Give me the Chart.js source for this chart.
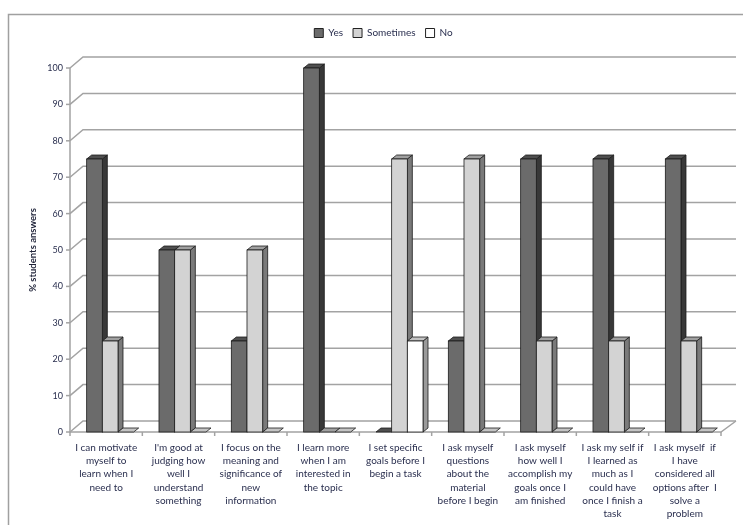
<!DOCTYPE html>
<html lang="en">
<head>
    <meta charset="UTF-8">
    <title>Metacognition survey</title>
    <script src="https://cdn.jsdelivr.net/npm/chart.js"></script>
    <style>
        body { margin: 0; background: #fff; }
    </style>
</head>
<body>
    <canvas id="surveyChart" width="743" height="525"></canvas>

    <script>
        // Statements (one array of lines per category)
        const categories = [
            ['I can motivate', 'myself to', 'learn when I', 'need to'],
            ["I'm good at", 'judging how', 'well I', 'understand', 'something'],
            ['I focus on the', 'meaning and', 'significance of', 'new', 'information'],
            ['I learn more', 'when I am', 'interested in', 'the topic'],
            ['I set specific', 'goals before I', 'begin a task'],
            ['I ask myself', 'questions', 'about the', 'material', 'before I begin'],
            ['I ask myself', 'how well I', 'accomplish my', 'goals once I', 'am finished'],
            ['I ask my self if', 'I learned as', 'much as I', 'could have', 'once I finish a', 'task'],
            ['I ask myself  if', 'I have', 'considered all', 'options after  I', 'solve a', 'problem']
        ];
        const yesValues = [75, 50, 25, 100, 0, 25, 75, 75, 75];
        const sometimesValues = [25, 50, 50, 0, 75, 75, 25, 25, 25];
        const noValues = [0, 0, 0, 0, 25, 0, 0, 0, 0];
        const yTickValues = [0, 10, 20, 30, 40, 50, 60, 70, 80, 90, 100];

        const textColor = '#2a2f4f';
        const gridColor = '#a3a3a3';
        const wallDepth = { x: 13, y: -11 };
        const barDepth = { x: 5, y: -4 };
        const faces = [
            { front: '#6b6b6b', top: '#4f4f4f', side: '#383838' },
            { front: '#d3d3d3', top: '#a0a0a0', side: '#7a7a7a' },
            { front: '#ffffff', top: '#c4c4c4', side: '#9a9a9a' }
        ];
        const font = 'Lato, "Liberation Sans", sans-serif';

        function poly(ctx, pts, fill) {
            ctx.beginPath();
            ctx.moveTo(pts[0][0], pts[0][1]);
            for (let i = 1; i < pts.length; i++) ctx.lineTo(pts[i][0], pts[i][1]);
            ctx.closePath();
            ctx.fillStyle = fill;
            ctx.fill();
            ctx.stroke();
        }

        // draws the frame, back wall, floor and the 3D columns
        const threeD = {
            id: 'threeD',
            afterInit(chart) {
                // leave extra room under the legend for the back wall
                const legend = chart.legend;
                const fit = legend.fit.bind(legend);
                legend.fit = function () { fit(); this.height += 20; };
            },
            afterLayout(chart) {
                // centre the legend over the plot rather than the canvas
                chart.legend.left += 13;
                chart.legend.right += 13;
            },
            beforeDraw(chart) {
                const ctx = chart.ctx;
                ctx.save();
                ctx.strokeStyle = '#a0a0a0';
                ctx.lineWidth = 1.5;
                ctx.strokeRect(8.5, 14.5, 900, 700);
                ctx.restore();
            },
            beforeDatasetsDraw(chart) {
                const { ctx, chartArea: a, scales: { y } } = chart;
                ctx.save();
                ctx.strokeStyle = gridColor;
                ctx.lineWidth = 1.5;

                y.ticks.forEach(t => {
                    const py = y.getPixelForValue(t.value);
                    ctx.beginPath();
                    ctx.moveTo(a.left, py);
                    ctx.lineTo(a.left + wallDepth.x, py + wallDepth.y);
                    ctx.lineTo(a.right + wallDepth.x + 2, py + wallDepth.y);
                    ctx.stroke();
                    ctx.beginPath();
                    ctx.moveTo(a.left - 4, py);
                    ctx.lineTo(a.left, py);
                    ctx.stroke();
                });

                // axis and floor
                ctx.beginPath();
                ctx.moveTo(a.left, y.getPixelForValue(100));
                ctx.lineTo(a.left, a.bottom);
                ctx.lineTo(a.right, a.bottom);
                ctx.lineTo(a.right + wallDepth.x + 2, a.bottom + wallDepth.y);
                ctx.stroke();

                const n = categories.length;
                for (let i = 0; i <= n; i++) {
                    const px = a.left + i * (a.right - a.left) / n;
                    ctx.beginPath();
                    ctx.moveTo(px, a.bottom);
                    ctx.lineTo(px, a.bottom + 4);
                    ctx.stroke();
                }

                // columns, left to right so each front hides the previous side
                ctx.translate(4, 0);
                ctx.strokeStyle = '#1c1c1c';
                ctx.lineWidth = 0.8;
                const dx = barDepth.x, dy = barDepth.y;
                for (let i = 0; i < n; i++) {
                    chart.data.datasets.forEach((ds, d) => {
                        const bar = chart.getDatasetMeta(d).data[i];
                        const c = faces[d];
                        const l = bar.x - bar.width / 2, r = bar.x + bar.width / 2;
                        const top = bar.y, base = bar.base;
                        if (base - top > 0.5) {
                            poly(ctx, [[r, top], [r + dx, top + dy], [r + dx, base + dy], [r, base]], c.side);
                        }
                        poly(ctx, [[l, top], [l + dx, top + dy], [r + dx, top + dy], [r, top]], c.top);
                        if (base - top > 0.5) {
                            ctx.fillStyle = c.front;
                            ctx.fillRect(l, top, r - l, base - top);
                            ctx.strokeRect(l, top, r - l, base - top);
                        }
                    });
                }
                ctx.restore();
                return false;
            }
        };

        const ctx = document.getElementById('surveyChart').getContext('2d');
        new Chart(ctx, {
            type: 'bar',
            data: {
                labels: categories,
                datasets: [
                    { label: 'Yes', data: yesValues, backgroundColor: faces[0].front },
                    { label: 'Sometimes', data: sometimesValues, backgroundColor: faces[1].front },
                    { label: 'No', data: noValues, backgroundColor: faces[2].front }
                ].map(ds => Object.assign(ds, { borderColor: '#222', borderWidth: 1 }))
            },
            options: {
                responsive: false,
                animation: false,
                devicePixelRatio: 1,
                events: [],
                categoryPercentage: 0.65,
                barPercentage: 1,
                layout: { padding: { top: 18, left: 20, right: 22, bottom: 0 } },
                plugins: {
                    legend: {
                        position: 'top',
                        labels: {
                            boxWidth: 9,
                            boxHeight: 9,
                            padding: 10,
                            color: textColor,
                            font: { family: font, size: 10 }
                        }
                    },
                    tooltip: { enabled: false }
                },
                scales: {
                    x: {
                        grid: { display: false, drawTicks: false },
                        border: { display: false },
                        ticks: {
                            autoSkip: false,
                            maxRotation: 0,
                            padding: 9,
                            color: textColor,
                            font: { family: font, size: 10, lineHeight: 1.33 }
                        },
                        afterFit: scale => { scale.height = 93; }
                    },
                    y: {
                        min: 0,
                        max: 100,
                        afterBuildTicks: scale => { scale.ticks = yTickValues.map(v => ({ value: v })); },
                        grid: { display: false, drawTicks: false },
                        border: { display: false },
                        ticks: {
                            padding: 7,
                            color: textColor,
                            font: { family: font, size: 9 }
                        },
                        title: {
                            display: true,
                            text: '% students answers',
                            color: '#1e2238',
                            padding: { top: 7, bottom: 0 },
                            font: { family: font, size: 9.5, weight: 'bold' }
                        },
                        afterFit: scale => { scale.width = 50; }
                    }
                }
            },
            plugins: [threeD]
        });
    </script>
</body>
</html>
